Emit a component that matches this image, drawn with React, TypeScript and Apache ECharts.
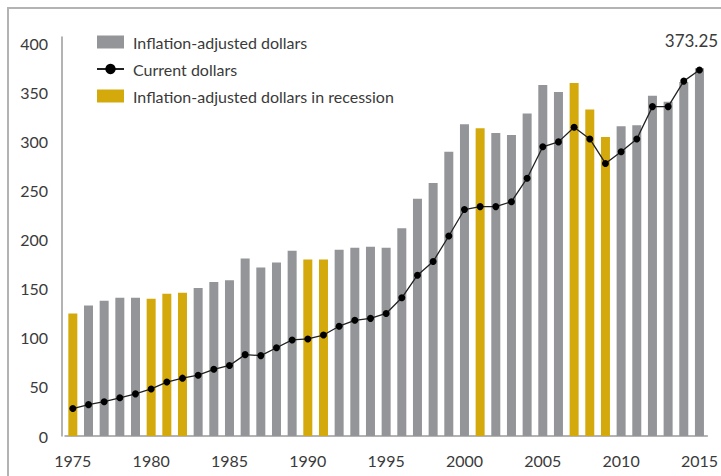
import React, { useEffect, useRef } from "react";
import * as echarts from "echarts";

const years: string[] = [];
for (let y = 1975; y <= 2015; y++) years.push(String(y));

const inflationAdjusted = [
  125, 133, 138, 141, 141, 140, 145, 146, 151, 157,
  159, 181, 172, 177, 189, 180, 180, 190, 192, 193,
  192, 212, 242, 258, 290, 318, 314, 309, 307, 329,
  358, 351, 360, 333, 305, 316, 317, 347, 341, 361,
  375,
];

const currentDollars = [
  28, 32, 35, 39, 43, 48, 55, 59, 62, 68,
  72, 83, 82, 90, 98, 99, 103, 112, 118, 120,
  125, 141, 164, 178, 204, 231, 234, 234, 239, 263,
  295, 300, 315, 303, 278, 290, 303, 336, 336, 362,
  373.25,
];

const recessionYears = ["1975", "1980", "1981", "1982", "1990", "1991", "2001", "2007", "2008", "2009"];

const yTicks = [0, 50, 100, 150, 200, 250, 300, 350, 400];

const FONT = "Lato";
const TEXT = "#3a3a3a";

export default function App() {
  const ref = useRef<HTMLDivElement>(null);
  useEffect(() => {
    if (!ref.current) return;
    const chart = echarts.init(ref.current, null, { renderer: "svg" });
    const normal = inflationAdjusted.map((v, i) => (recessionYears.includes(years[i]) ? null : v));
    const recession = inflationAdjusted.map((v, i) => (recessionYears.includes(years[i]) ? v : null));
    const lineData: any[] = currentDollars.map((v, i) =>
      i === currentDollars.length - 1
        ? {
            value: v,
            label: {
              show: true,
              formatter: String(v),
              position: "top",
              distance: 18,
              offset: [-8, 0],
              fontSize: 17,
              fontFamily: FONT,
              color: TEXT,
            },
          }
        : v
    );
    chart.setOption({
      animation: false,
      textStyle: { fontFamily: FONT },
      graphic: [
        {
          type: "rect",
          shape: { x: 8, y: 8, width: 730, height: 490 },
          style: { fill: "none", stroke: "#b3b3b3", lineWidth: 2 },
          silent: true,
        },
      ],
      legend: {
        orient: "vertical",
        left: 96,
        top: 34,
        padding: 0,
        itemWidth: 27,
        itemHeight: 13,
        itemGap: 11,
        textStyle: { fontSize: 16, color: TEXT, fontFamily: FONT, padding: [0, 0, 0, 4] },
        data: [
          { name: "Inflation-adjusted dollars", icon: "rect" },
          { name: "Current dollars" },
          { name: "Inflation-adjusted dollars in recession", icon: "rect" },
        ],
      },
      grid: { left: 65, right: 13, top: 37, bottom: 40, containLabel: false },
      xAxis: {
        type: "category",
        data: years,
        boundaryGap: true,
        axisLine: { show: true, lineStyle: { color: "#9a9a9a", width: 1.5 } },
        axisTick: { show: false },
        axisLabel: { interval: 4, fontSize: 16, color: TEXT, fontFamily: FONT, margin: 16 },
      },
      yAxis: {
        type: "value",
        min: 0,
        max: 407,
        interval: 50,
        offset: 3,
        axisLine: { show: true, lineStyle: { color: "#9a9a9a", width: 1.5 } },
        axisTick: { show: false },
        splitLine: { show: false },
        axisLabel: {
          fontSize: 16,
          color: TEXT,
          fontFamily: FONT,
          margin: 14,
          showMaxLabel: false,
          formatter: (v: number) => (yTicks.includes(v) ? String(v) : ""),
        },
      },
      series: [
        {
          name: "Inflation-adjusted dollars",
          type: "bar",
          data: normal,
          barWidth: 9,
          barGap: "-100%",
          itemStyle: { color: "#939598" },
        },
        {
          name: "Inflation-adjusted dollars in recession",
          type: "bar",
          data: recession,
          barWidth: 9,
          barGap: "-100%",
          itemStyle: { color: "#d4a90c" },
        },
        {
          name: "Current dollars",
          type: "line",
          data: lineData,
          symbol: "circle",
          symbolSize: 7,
          lineStyle: { color: "#222", width: 1.3 },
          itemStyle: { color: "#000" },
          z: 5,
        },
      ],
    });
    return () => chart.dispose();
  }, []);
  return (
    <div
      ref={ref}
      style={{ position: "fixed", left: 0, top: 0, width: 721, height: 476, background: "#fff" }}
    />
  );
}
